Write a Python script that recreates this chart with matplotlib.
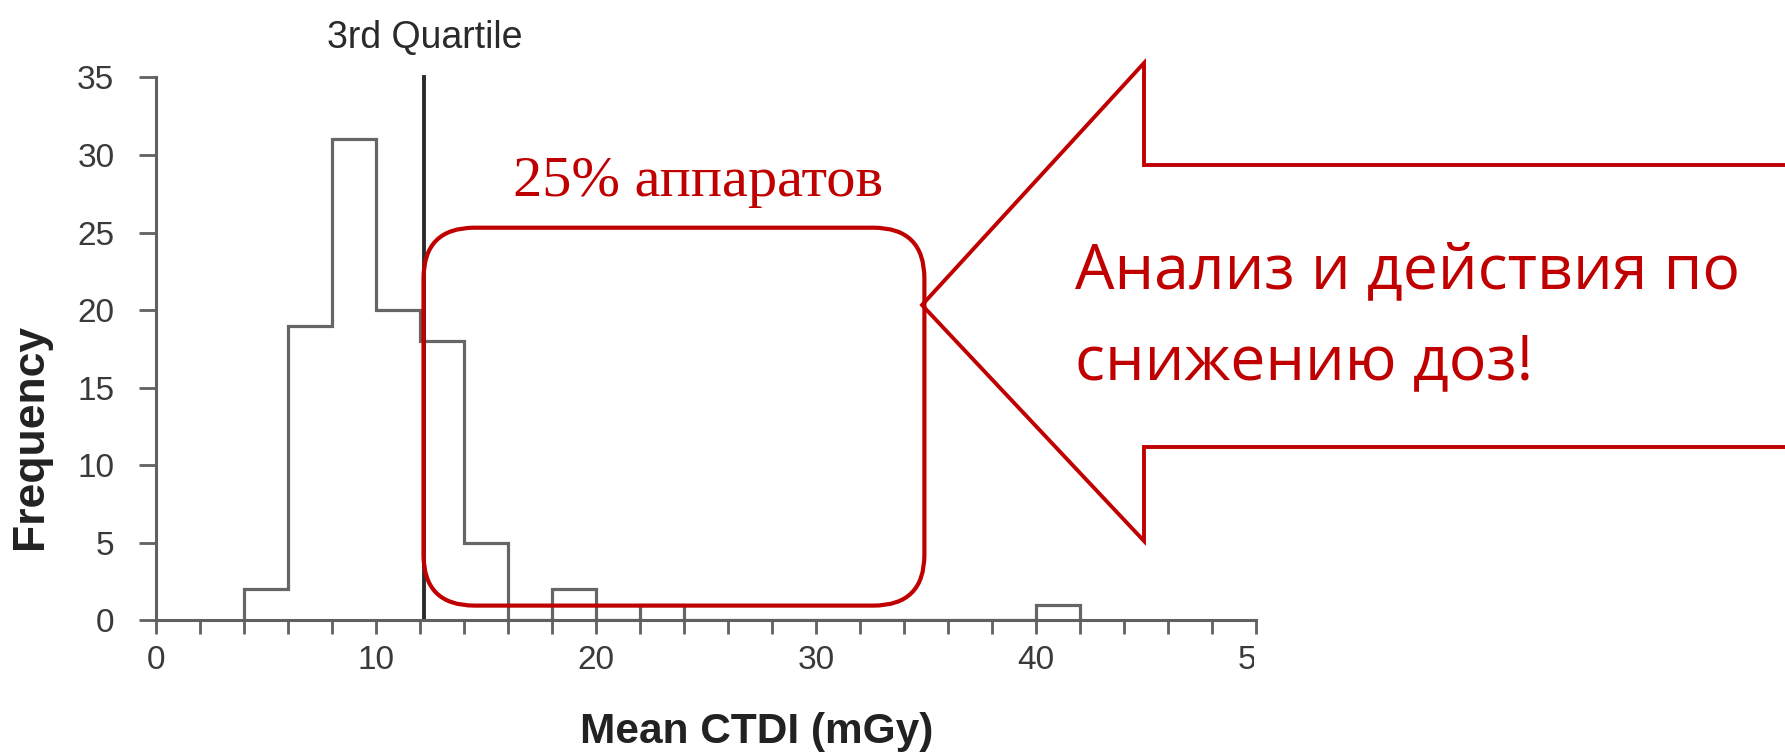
import matplotlib
matplotlib.use("Agg")
import matplotlib.pyplot as plt
from matplotlib.patches import FancyBboxPatch, Rectangle
from matplotlib.ticker import MultipleLocator

# ---- data ----
bin_edges = [4, 6, 8, 10, 12, 14, 16, 18, 20, 22, 24, 26, 28, 30, 32, 34, 36, 38, 40, 42]
counts = [2, 19, 31, 20, 18, 5, 0, 2, 0, 1, 0, 0, 0, 0, 0, 0, 0, 0, 1]
quartile_3 = 12.2
x_ticks = [0, 10, 20, 30, 40, 50]
y_ticks = [0, 5, 10, 15, 20, 25, 30, 35]
x_label = "Mean CTDI (mGy)"
y_label = "Frequency"
quartile_label = "3rd Quartile"
box_label = "25% аппаратов"
arrow_lines = ["Анализ и действия по", "снижению доз!"]

RED = "#C00000"
GRAY = "#606060"

W, H = 1785, 754
fig = plt.figure(figsize=(W / 100, H / 100), dpi=100)
fig.patch.set_facecolor("white")

x0, x1 = 156, 1256
y_bot, y_top = 620.4, 77.4
ax = fig.add_axes([x0 / W, (H - y_bot) / H, (x1 - x0) / W, (y_bot - y_top) / H])
ax.set_xlim(0, 50)
ax.set_ylim(0, 35)
for s in ("top", "right"):
    ax.spines[s].set_visible(False)
for s in ("left", "bottom"):
    ax.spines[s].set_color(GRAY)
    ax.spines[s].set_linewidth(2.2)

ax.stairs(counts, bin_edges, color="#666666", linewidth=2.3, baseline=0)
ax.plot([quartile_3, quartile_3], [0, 35], color="#2b2b2b", linewidth=2.8, clip_on=False)
ax.text(quartile_3, 36.9, quartile_label, ha="center", va="baseline",
        fontsize=27, color="#2a2a2a", family="Liberation Sans")

ax.set_xticks(x_ticks)
ax.set_yticks(y_ticks)
ax.xaxis.set_minor_locator(MultipleLocator(2))
ax.tick_params(axis="x", which="both", direction="out", length=10, width=2.0, color=GRAY)
ax.tick_params(axis="y", which="both", direction="out", length=12, width=2.0, color=GRAY)
ax.tick_params(axis="x", which="major", labelsize=24, labelcolor="#3a3a3a", pad=8)
ax.tick_params(axis="y", which="major", labelsize=24, labelcolor="#3a3a3a", pad=18)
for lab in ax.get_xticklabels() + ax.get_yticklabels():
    lab.set_family("Liberation Sans")

fig.text(31 / W, 1 - 436 / H, y_label, rotation=90, ha="center", va="center",
         fontsize=32, fontweight="bold", family="Liberation Sans", color="#222222")
fig.text(757 / W, 1 - 732 / H, x_label, ha="center", va="center",
         fontsize=30.5, fontweight="bold", family="Liberation Sans", color="#222222")

# overlay in pixel coordinates
ov = fig.add_axes([0, 0, 1, 1])
ov.set_xlim(0, W)
ov.set_ylim(H, 0)
ov.axis("off")
ov.patch.set_alpha(0)

# hide right half of the clipped "50" label
ov.add_patch(Rectangle((1254, 638), 60, 55, facecolor="white", edgecolor="none"))

box = FancyBboxPatch((423.5, 227.7), 500.9, 377.9,
                     boxstyle="round,pad=0,rounding_size=51",
                     facecolor="none", edgecolor=RED, linewidth=3.0)
ov.add_patch(box)
ov.text(698, 196, box_label, ha="center", va="baseline", fontsize=42,
        color=RED, family="Liberation Serif")

arrow_x = [1800, 1144, 1144, 922, 1144, 1144, 1800]
arrow_y = [165, 165, 63, 305, 541, 447, 447]
ov.plot(arrow_x, arrow_y, color=RED, linewidth=2.8, solid_joinstyle="miter")

ov.text(1075, 288, arrow_lines[0], ha="left", va="baseline", fontsize=45,
        color=RED, family="Open Sans")
ov.text(1075, 379, arrow_lines[1], ha="left", va="baseline", fontsize=45,
        color=RED, family="Open Sans")

fig.savefig("out.png", dpi=100, facecolor="white")
